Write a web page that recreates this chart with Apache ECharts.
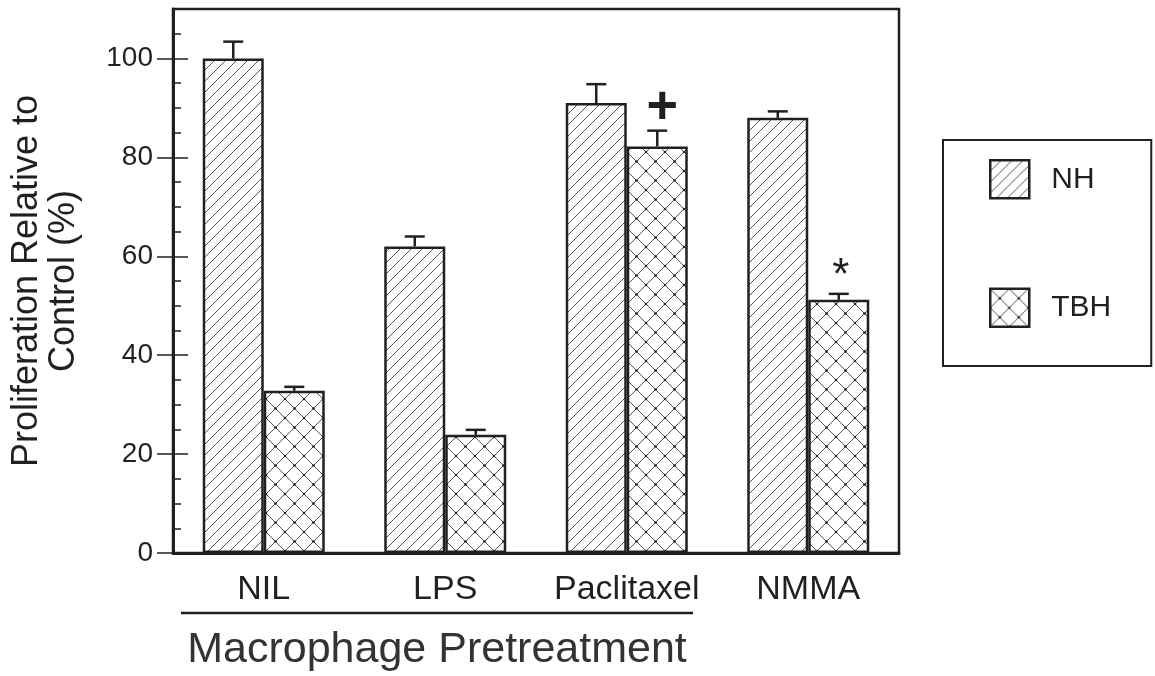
<!DOCTYPE html>
<html>
<head>
<meta charset="utf-8">
<script src="https://cdn.jsdelivr.net/npm/echarts@6/dist/echarts.min.js"></script>
<style>
html, body { margin: 0; background: #fff; }
#chart { width: 1155px; height: 676px; }
</style>
</head>
<body>
<div id="chart"></div>
<script>
const categories = ['NIL', 'LPS', 'Paclitaxel', 'NMMA']
const nhValues = [100, 62, 91, 88]
const nhErrors = [3.4, 2, 3.8, 1.3]
const tbhValues = [32.8, 23.9, 82.2, 51.2]
const tbhErrors = [0.8, 1, 3.2, 1.2]
const tbhMarks = ['', '', '+', '*']
const yTicks = [0, 20, 40, 60, 80, 100]

const ink = '#231f20'
const font = 'Liberation Sans, Arial, sans-serif'
const barWidth = 61

// hatch fills drawn on small canvases, used as repeating patterns
const makeHatch = function (size, cross) {
    const c = document.createElement('canvas')
    c.width = size
    c.height = size
    const ctx = c.getContext('2d')
    ctx.fillStyle = '#fff'
    ctx.fillRect(0, 0, size, size)
    ctx.strokeStyle = '#555'
    ctx.lineWidth = 1
    ctx.beginPath()
    ctx.moveTo(-1, size + 1); ctx.lineTo(size + 1, -1)
    if (cross) {
        ctx.moveTo(-1, -1); ctx.lineTo(size + 1, size + 1)
    }
    ctx.stroke()
    if (cross) {
        ctx.fillStyle = '#222'
        const dots = [[size / 2, size / 2], [0, 0], [size, 0], [0, size], [size, size]]
        dots.forEach(([x, y]) => {
            ctx.beginPath()
            ctx.arc(x, y, 1.3, 0, Math.PI * 2)
            ctx.fill()
        })
    }
    return { image: c, repeat: 'repeat' }
}
const nhFill = makeHatch(11, false)
const tbhFill = makeHatch(19, true)

const errorRenderer = function (offset, marks) {
    return function (params, api) {
        const i = api.value(0)
        const base = api.coord([i, api.value(1)])
        const top = api.coord([i, api.value(1) + api.value(2)])
        const x = base[0] + offset
        const stroke = { stroke: ink, lineWidth: 2.5 }
        const children = [
            { type: 'line', shape: { x1: x, y1: base[1], x2: x, y2: top[1] }, style: stroke },
            { type: 'line', shape: { x1: x - 10, y1: top[1], x2: x + 10, y2: top[1] }, style: stroke }
        ]
        if (marks && marks[i]) {
            const plus = marks[i] === '+'
            children.push({
                type: 'text',
                style: {
                    text: marks[i],
                    x: x + (plus ? 5 : 2),
                    y: top[1] - (plus ? 23 : 17),
                    align: 'center',
                    verticalAlign: 'middle',
                    font: (plus ? 'bold 54px ' : '44px ') + font,
                    fill: ink
                }
            })
        }
        return { type: 'group', children }
    }
}

const chart = echarts.init(document.getElementById('chart'))
const option = {
    animation: false,
    grid: {
        left: 173, top: 9, right: 256, bottom: 123,
        containLabel: false, outerBoundsMode: 'none',
        show: true, borderColor: ink, borderWidth: 2.5
    },
    legend: {
        data: ['NH', 'TBH'],
        orient: 'vertical',
        left: 943, top: 140,
        icon: 'rect',
        itemWidth: 39, itemHeight: 38,
        itemGap: 88,
        padding: [19, 40, 38, 46],
        borderColor: ink, borderWidth: 2,
        itemStyle: { borderColor: ink, borderWidth: 2.5 },
        textStyle: { fontFamily: font, fontSize: 30, color: ink, padding: [0, 0, 0, 17] }
    },
    xAxis: {
        type: 'category',
        data: categories,
        axisLine: { lineStyle: { color: ink, width: 3 } },
        axisTick: { show: false },
        axisLabel: { interval: 0, fontFamily: font, fontSize: 34, color: ink, margin: 20 }
    },
    yAxis: [
        {
            type: 'value', min: 0, max: 110, position: 'left', offset: 0,
            name: 'Proliferation Relative to\nControl (%)',
            nameLocation: 'middle', nameRotate: 90, nameGap: 90,
            nameTextStyle: { fontFamily: font, fontSize: 36, color: ink, lineHeight: 37 },
            axisLine: { show: true, lineStyle: { color: ink, width: 3 } },
            axisTick: { show: true, inside: false, length: 16, customValues: yTicks, lineStyle: { color: ink, width: 1.5 } },
            axisLabel: { customValues: yTicks, fontFamily: font, fontSize: 28, color: ink, margin: 20 },
            splitLine: { show: false }
        },
        {
            type: 'value', min: 0, max: 110, position: 'left', offset: 0,
            axisLine: { show: false },
            axisTick: { show: true, inside: true, length: 15, customValues: yTicks, lineStyle: { color: ink, width: 1.5 } },
            axisLabel: { show: false },
            splitLine: { show: false }
        },
        {
            type: 'value', min: 0, max: 110, interval: 5, position: 'left', offset: 0,
            axisLine: { show: false },
            axisTick: { show: true, inside: true, length: 8, lineStyle: { color: ink, width: 1.5 } },
            axisLabel: { show: false },
            splitLine: { show: false }
        }
    ],
    series: [
        {
            name: 'NH', type: 'bar', data: nhValues,
            barWidth, barGap: 0,
            itemStyle: { color: nhFill, borderColor: ink, borderWidth: 2.5 },
            emphasis: { disabled: true }
        },
        {
            name: 'TBH', type: 'bar', data: tbhValues,
            barWidth, barGap: 0,
            itemStyle: { color: tbhFill, borderColor: ink, borderWidth: 2.5 },
            emphasis: { disabled: true }
        },
        {
            name: 'NH error', type: 'custom', z: 5,
            data: nhValues.map((v, i) => [i, v, nhErrors[i]]),
            renderItem: errorRenderer(-barWidth / 2)
        },
        {
            name: 'TBH error', type: 'custom', z: 5,
            data: tbhValues.map((v, i) => [i, v, tbhErrors[i]]),
            renderItem: errorRenderer(barWidth / 2, tbhMarks)
        }
    ],
    graphic: [
        {
            type: 'line',
            shape: { x1: 181, y1: 613, x2: 693, y2: 613 },
            style: { stroke: ink, lineWidth: 2.5 }
        },
        {
            type: 'text',
            x: 437, y: 650,
            style: {
                text: 'Macrophage Pretreatment',
                font: '43px ' + font,
                fill: '#333',
                align: 'center',
                verticalAlign: 'middle'
            }
        }
    ]
}
chart.setOption(option)
</script>
</body>
</html>
